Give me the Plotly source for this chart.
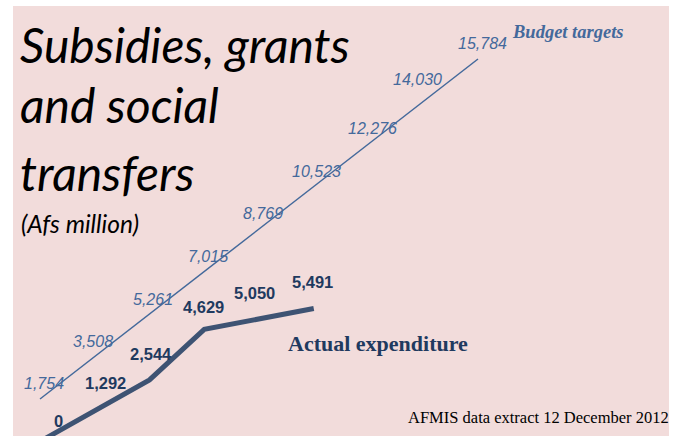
import plotly.graph_objects as go

# ---- data ----
periods = [1, 2, 3, 4, 5, 6, 7, 8, 9]
budget_targets = [1754, 3508, 5261, 7015, 8769, 10523, 12276, 14030, 15784]
actual_periods = [1, 2, 3, 4, 5, 6]
actual_expenditure = [0, 1292, 2544, 4629, 5050, 5491]

# label offsets (pixels) - styling only
budget_label_dx = [4, -2, 3, 4, 4, 3, 3.5, -6, 4.5]
budget_label_dy = [16, 14.5, 15, 15.5, 16, 14.5, 16, 22, 16]
actual_label_dx = [18, 11, 1, -1, -5, -1]
actual_label_dy = [20.5, 27, 26, 22, 26, 26]

W, H = 683, 436
BUDGET_COL = "#44699b"
ACTUAL_COL = "#3e5373"
ACTUAL_TXT = "#1f3a5f"
PINK = "#f2dcdb"

# axis calibration (pixel-based)
x_unit = 54.75
x0 = 1 - 40 / x_unit
x1 = x0 + W / x_unit
y_scale = 340 / 14030
y_zero_px = 399 + 1754 * y_scale
y_lo = (y_zero_px - H) / y_scale
y_hi = y_zero_px / y_scale


def px(x):
    return x / W


def py(y):
    return 1 - y / H


fig = go.Figure()
fig.add_trace(go.Scatter(x=periods, y=budget_targets, mode="lines",
                         line=dict(color=BUDGET_COL, width=1.5),
                         hoverinfo="skip", showlegend=False))
fig.add_trace(go.Scatter(x=actual_periods, y=actual_expenditure, mode="lines",
                         line=dict(color=ACTUAL_COL, width=5),
                         hoverinfo="skip", showlegend=False))

annotations = []
for i, (xv, yv) in enumerate(zip(periods, budget_targets)):
    annotations.append(dict(x=xv + budget_label_dx[i] / x_unit,
                            y=yv + budget_label_dy[i] / y_scale,
                            xref="x", yref="y", text=f"{yv:,}",
                            showarrow=False, xanchor="center", yanchor="middle",
                            font=dict(family="Liberation Sans", size=16,
                                      color=BUDGET_COL, style="italic")))
for i, (xv, yv) in enumerate(zip(actual_periods, actual_expenditure)):
    annotations.append(dict(x=xv + actual_label_dx[i] / x_unit,
                            y=yv + actual_label_dy[i] / y_scale,
                            xref="x", yref="y", text=f"<b>{yv:,}</b>",
                            showarrow=False, xanchor="center", yanchor="middle",
                            font=dict(family="Liberation Sans", size=16.5,
                                      color=ACTUAL_TXT)))

title_font = dict(family="Lato", size=48, color="black", style="italic")
for txt, yc in [("Subsidies, grants", 44), ("and social", 104), ("transfers", 172)]:
    annotations.append(dict(x=px(18), y=py(yc), xref="paper", yref="paper", text=txt,
                            showarrow=False, xanchor="left", yanchor="middle",
                            font=title_font))
annotations.append(dict(x=px(19), y=py(223), xref="paper", yref="paper",
                        text="(Afs million)", showarrow=False, xanchor="left",
                        yanchor="middle",
                        font=dict(family="Lato", size=24.5, color="black", style="italic")))
annotations.append(dict(x=px(510), y=py(32), xref="paper", yref="paper",
                        text="<b>Budget targets</b>", showarrow=False, xanchor="left",
                        yanchor="middle",
                        font=dict(family="Liberation Serif", size=18.5, color=BUDGET_COL,
                                  style="italic")))
annotations.append(dict(x=px(286), y=py(343), xref="paper", yref="paper",
                        text="<b>Actual expenditure</b>", showarrow=False, xanchor="left",
                        yanchor="middle",
                        font=dict(family="Liberation Serif", size=22, color=ACTUAL_TXT)))
annotations.append(dict(x=px(406), y=py(417), xref="paper", yref="paper",
                        text="AFMIS data extract 12 December 2012", showarrow=False,
                        xanchor="left", yanchor="middle",
                        font=dict(family="Liberation Serif", size=16.5, color="black")))

fig.update_layout(
    width=W, height=H, autosize=False,
    margin=dict(l=0, r=0, t=0, b=0),
    paper_bgcolor="white", plot_bgcolor="rgba(0,0,0,0)",
    xaxis=dict(range=[x0, x1], visible=False, fixedrange=True),
    yaxis=dict(range=[y_lo, y_hi], visible=False, fixedrange=True),
    shapes=[dict(type="rect", xref="paper", yref="paper", x0=px(13), x1=px(669),
                 y0=0, y1=py(6), fillcolor=PINK, line=dict(width=0), layer="below")],
    annotations=annotations,
)

fig.write_html("out.html")
